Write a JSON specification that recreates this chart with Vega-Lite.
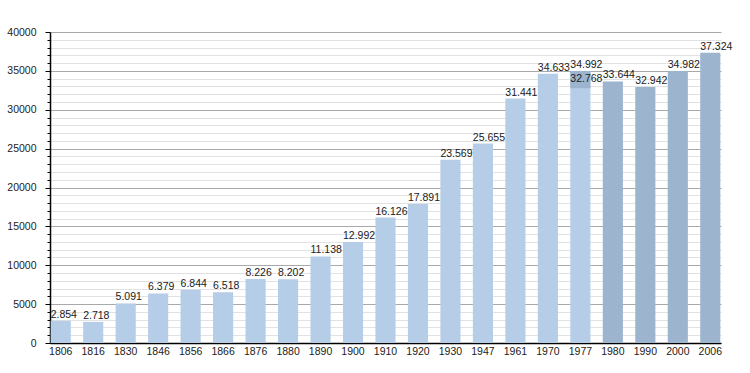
{
  "$schema": "https://vega.github.io/schema/vega-lite/v6.json",
  "width": 671,
  "height": 311,
  "autosize": {"type": "none"},
  "padding": {"left": 50, "top": 32, "right": 29, "bottom": 30},
  "background": "white",
  "config": {
    "view": {"stroke": null},
    "font": "Liberation Sans",
    "locale": {"number": {"decimal": ",", "thousands": ".", "grouping": [3], "currency": ["", ""]}}
  },
  "datasets": {
    "pop": [
      {"year": "1806", "pop": 2854, "era": "a"},
      {"year": "1816", "pop": 2718, "era": "a"},
      {"year": "1830", "pop": 5091, "era": "a"},
      {"year": "1846", "pop": 6379, "era": "a"},
      {"year": "1856", "pop": 6844, "era": "a"},
      {"year": "1866", "pop": 6518, "era": "a"},
      {"year": "1876", "pop": 8226, "era": "a"},
      {"year": "1880", "pop": 8202, "era": "a"},
      {"year": "1890", "pop": 11138, "era": "a"},
      {"year": "1900", "pop": 12992, "era": "a"},
      {"year": "1910", "pop": 16126, "era": "a"},
      {"year": "1920", "pop": 17891, "era": "a"},
      {"year": "1930", "pop": 23569, "era": "a"},
      {"year": "1947", "pop": 25655, "era": "a"},
      {"year": "1961", "pop": 31441, "era": "a"},
      {"year": "1970", "pop": 34633, "era": "a"},
      {"year": "1977", "pop": 34992, "era": "a"},
      {"year": "1980", "pop": 33644, "era": "b"},
      {"year": "1990", "pop": 32942, "era": "b"},
      {"year": "2000", "pop": 34982, "era": "b"},
      {"year": "2006", "pop": 37324, "era": "b"}
    ],
    "seg": [
      {"year": "1977", "lo": 32768, "hi": 34992}
    ]
  },
  "layer": [
    {
      "data": {"name": "pop"},
      "mark": {"type": "bar"},
      "encoding": {
        "x": {
          "field": "year", "type": "ordinal", "sort": null,
          "scale": {"paddingInner": 0.38, "paddingOuter": 0.02},
          "axis": {
            "title": null, "labelAngle": 0, "ticks": false, "labelPadding": 3,
            "domainColor": "#000", "domainWidth": 1.5,
            "labelFontSize": 10.5, "labelColor": "#222"
          }
        },
        "y": {
          "field": "pop", "type": "quantitative",
          "scale": {"domain": [0, 40000], "nice": false},
          "axis": {
            "title": null,
            "tickCount": 100,
            "values": [0,1000,2000,3000,4000,5000,6000,7000,8000,9000,10000,11000,12000,13000,14000,15000,16000,17000,18000,19000,20000,21000,22000,23000,24000,25000,26000,27000,28000,29000,30000,31000,32000,33000,34000,35000,36000,37000,38000,39000,40000],
            "labelExpr": "datum.value % 5000 === 0 ? '' + datum.value : ''",
            "grid": true,
            "gridColor": {"condition": {"test": "datum.value % 5000 === 0", "value": "#a9a9a9"}, "value": "#e2e2e2"},
            "tickSize": {"condition": {"test": "datum.value % 5000 === 0", "value": 5}, "value": 3},
            "tickColor": "#000",
            "domainColor": "#000", "domainWidth": 1.5,
            "labelPadding": 9,
            "labelFontSize": 10.5, "labelColor": "#222",
            "labelOverlap": false,
            "labelBound": false,
            "labelFlush": false
          }
        },
        "color": {
          "field": "era", "type": "nominal", "legend": null,
          "scale": {"domain": ["a", "b"], "range": ["#b6cde7", "#9db4cf"]}
        }
      }
    },
    {
      "data": {"name": "seg"},
      "mark": {"type": "bar", "color": "#9db4cf"},
      "encoding": {
        "x": {"field": "year", "type": "ordinal", "sort": null},
        "y": {"field": "lo", "type": "quantitative"},
        "y2": {"field": "hi"}
      }
    },
    {
      "data": {"name": "pop"},
      "mark": {"type": "text", "align": "left", "baseline": "alphabetic", "dy": -3, "fontSize": 10.5, "color": "#1a1a1a"},
      "encoding": {
        "x": {"field": "year", "type": "ordinal", "sort": null, "bandPosition": 0},
        "y": {"field": "pop", "type": "quantitative"},
        "text": {"field": "pop", "type": "quantitative", "format": ",d"}
      }
    },
    {
      "data": {"name": "seg"},
      "mark": {"type": "text", "align": "left", "baseline": "alphabetic", "dy": -6, "fontSize": 10.5, "color": "#1a1a1a"},
      "encoding": {
        "x": {"field": "year", "type": "ordinal", "sort": null, "bandPosition": 0},
        "y": {"field": "lo", "type": "quantitative"},
        "text": {"field": "lo", "type": "quantitative", "format": ",d"}
      }
    }
  ]
}
